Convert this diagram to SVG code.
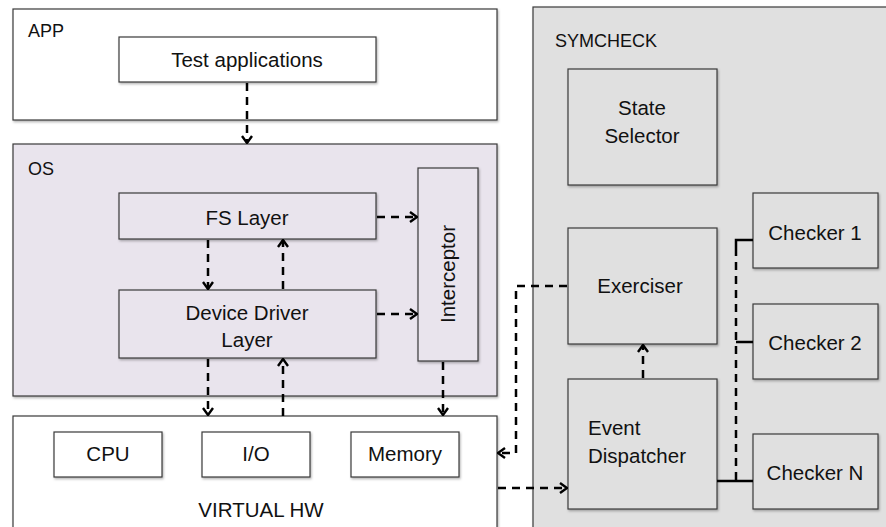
<svg xmlns="http://www.w3.org/2000/svg" width="886" height="527" viewBox="0 0 886 527">
<defs>
<filter id="sh" x="-10%" y="-10%" width="120%" height="130%">
<feDropShadow dx="1" dy="1.5" stdDeviation="1" flood-color="#000" flood-opacity="0.3"/>
</filter>
<marker id="ah" viewBox="0 0 12 12" refX="11" refY="6" markerWidth="12" markerHeight="12" markerUnits="userSpaceOnUse" orient="auto">
<path d="M4,1 L11,6 L4,11" fill="none" stroke="#000" stroke-width="2.4"/>
</marker>
</defs>
<style>
.box{stroke:#3a3a3a;stroke-width:1.2;filter:url(#sh)}
.w{fill:#fff}
.os{fill:#e9e4ed}
.g{fill:#e0e0e0}
text{font-family:"Liberation Sans",Arial,sans-serif;fill:#111}
.t{font-size:20.5px;text-anchor:middle}
.lbl{font-size:18px}
.dash{fill:none;stroke:#000;stroke-width:2.5;stroke-dasharray:8,6}
.solid{fill:none;stroke:#000;stroke-width:2.5}
</style>
<rect width="886" height="527" fill="#fff"/>

<g id="app">
<rect class="box w" x="13" y="9" width="484" height="111"/>
<text class="lbl" x="28" y="37">APP</text>
</g>
<g id="test-applications">
<rect class="box w" x="119" y="37" width="257" height="45"/>
<text class="t" x="247" y="67">Test applications</text>
</g>

<g id="os">
<rect class="box os" x="13" y="144" width="484" height="252"/>
<text class="lbl" x="28" y="175">OS</text>
</g>
<g id="fs-layer">
<rect class="box os" x="119" y="193" width="257" height="46"/>
<text class="t" x="247" y="225">FS Layer</text>
</g>
<g id="device-driver-layer">
<rect class="box os" x="119" y="290" width="257" height="68"/>
<text class="t" x="247" y="320">Device Driver</text>
<text class="t" x="247" y="347">Layer</text>
</g>
<g id="interceptor">
<rect class="box os" x="418" y="168" width="60" height="193"/>
<text class="t" transform="translate(455,274) rotate(-90)" x="0" y="0">Interceptor</text>
</g>

<g id="virtual-hw">
<rect class="box w" x="13" y="416" width="484" height="125"/>
<text class="t" x="261" y="517">VIRTUAL HW</text>
</g>
<g id="cpu">
<rect class="box w" x="54" y="432" width="108" height="45"/>
<text class="t" x="108" y="461">CPU</text>
</g>
<g id="io">
<rect class="box w" x="202" y="432" width="108" height="45"/>
<text class="t" x="256" y="461">I/O</text>
</g>
<g id="memory">
<rect class="box w" x="351" y="432" width="108" height="45"/>
<text class="t" x="405" y="461">Memory</text>
</g>

<g id="symcheck">
<rect class="box g" x="533" y="7" width="370" height="540"/>
<text class="lbl" x="555" y="47">SYMCHECK</text>
</g>
<g id="state-selector">
<rect class="box g" x="568" y="69" width="149" height="116"/>
<text class="t" x="642" y="115">State</text>
<text class="t" x="642" y="143">Selector</text>
</g>
<g id="exerciser">
<rect class="box g" x="568" y="228" width="149" height="116"/>
<text class="t" x="640" y="293">Exerciser</text>
</g>
<g id="event-dispatcher">
<rect class="box g" x="568" y="379" width="149" height="130"/>
<text class="t" x="588" y="435" style="text-anchor:start">Event</text>
<text class="t" x="588" y="463" style="text-anchor:start">Dispatcher</text>
</g>
<g id="checker-1">
<rect class="box g" x="753" y="193" width="125" height="75"/>
<text class="t" x="815" y="240">Checker 1</text>
</g>
<g id="checker-2">
<rect class="box g" x="753" y="304" width="125" height="75"/>
<text class="t" x="815" y="350">Checker 2</text>
</g>
<g id="checker-n">
<rect class="box g" x="753" y="434" width="125" height="75"/>
<text class="t" x="815" y="480">Checker N</text>
</g>

<g id="connectors">
<path class="dash" d="M247,83 V143" marker-end="url(#ah)"/>
<path class="dash" d="M208,240 V289" marker-end="url(#ah)"/>
<path class="dash" d="M283,289 V240" marker-end="url(#ah)"/>
<path class="dash" d="M377,217 H417" marker-end="url(#ah)"/>
<path class="dash" d="M377,314 H417" marker-end="url(#ah)"/>
<path class="dash" d="M208,359 V415" marker-end="url(#ah)"/>
<path class="dash" d="M283,416 V359" marker-end="url(#ah)"/>
<path class="dash" d="M443,362 V415" marker-end="url(#ah)"/>
<path class="dash" d="M567,286 H516 V453 H498" marker-end="url(#ah)"/>
<path class="dash" d="M498,488 H567" marker-end="url(#ah)"/>
<path class="dash" d="M643,378 V345" marker-end="url(#ah)"/>
<path class="dash" d="M736,248 V481"/>
<path class="solid" d="M736,248 V240 H753"/>
<path class="solid" d="M736,342 H753"/>
<path class="solid" d="M717,481 H753"/>
</g>
</svg>
